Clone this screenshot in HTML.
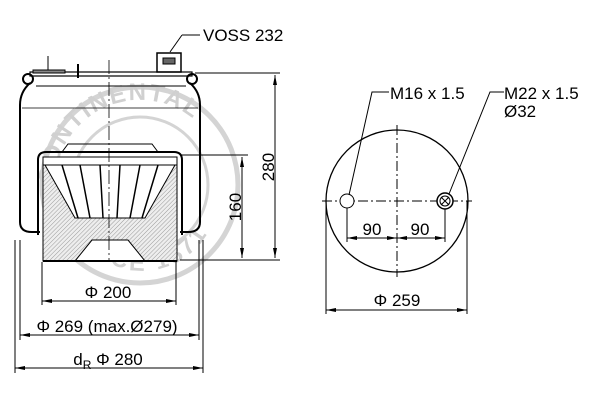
<!DOCTYPE html>
<html><head><style>html,body{margin:0;padding:0;background:#fff}svg{display:block}</style></head>
<body>
<svg width="600" height="400" viewBox="0 0 600 400" xmlns="http://www.w3.org/2000/svg" font-family="Liberation Sans, sans-serif">
<defs>
<pattern id="h" width="3" height="3" patternUnits="userSpaceOnUse" patternTransform="rotate(45)">
<rect width="3" height="3" fill="#eee"/><line x1="0" y1="0" x2="0" y2="3" stroke="#999" stroke-width="1"/></pattern>
<marker id="a" markerWidth="10" markerHeight="6" refX="10" refY="3" orient="auto-start-reverse" markerUnits="userSpaceOnUse"><path d="M0,1 L10,3 L0,5z" fill="#000"/></marker>
</defs>
<!-- watermark -->
<g fill="none" stroke="#d4d4d4" stroke-width="5">
<circle cx="140" cy="185" r="98"/><circle cx="140" cy="185" r="68" stroke-width="3"/>
</g>
<path id="wt" d="M55,185 A85,85 0 0 1 225,185" fill="none"/>
<path id="wb" d="M70,215 A75,75 0 0 0 215,215" fill="none"/>
<text font-size="24" font-weight="bold" fill="#d0d0d0" letter-spacing="2"><textPath href="#wt">CONTINENTAL</textPath></text>
<text font-size="24" font-weight="bold" fill="#d0d0d0" letter-spacing="3"><textPath href="#wb" startOffset="15">SINCE 1871</textPath></text>

<g stroke="#000" fill="none" stroke-width="1">
<rect x="30" y="72" width="162" height="4" stroke-width="1.2"/>
<line x1="36" y1="86" x2="186" y2="86"/>
<circle cx="28" cy="79" r="5" stroke-width="2"/><circle cx="192" cy="79" r="5" stroke-width="2"/>
<line x1="48" y1="56" x2="48" y2="72"/><rect x="33" y="70" width="32" height="3" fill="#888"/>
<line x1="78" y1="64" x2="78" y2="78" stroke-width="2"/>
<rect x="157" y="53" width="24" height="19" stroke-width="1.5"/><rect x="163" y="58" width="12" height="6" fill="#666"/>
<line x1="170" y1="52" x2="182" y2="35"/><line x1="182" y1="35" x2="200" y2="35"/>
<path d="M30,83 Q20,92 20,105 L20,222 Q20,232 32,232 L40,232" stroke-width="2"/>
<path d="M190,83 Q200,92 200,105 L200,222 Q200,232 188,232 L180,232" stroke-width="2"/>
<line x1="22" y1="108" x2="198" y2="108" stroke-width="0.7"/>
<path d="M38,235 L38,160 Q38,152 46,152 L174,152 Q182,152 182,160 L182,235" stroke-width="2"/>
<rect x="43" y="162" width="134" height="99" fill="url(#h)"/>
<path d="M62,152 L68,144 L152,144 L158,152" />
<rect x="43" y="157" width="134" height="8" fill="#fff"/>
<path d="M45,165 L75,218 L145,218 L175,165 Z" fill="#fff"/>
<path d="M62,165 L78,218 M80,165 L90,218 M100,165 L103,218 M120,165 L117,218 M140,165 L130,218 M158,165 L142,218" stroke-width="1.5"/>
<path d="M75,261 L92,240 L128,240 L145,261 Z" fill="#fff"/>
<line x1="43" y1="261" x2="177" y2="261" stroke-width="2"/>
<line x1="109" y1="60" x2="109" y2="262" stroke-dasharray="14,3,2,3" stroke-width="0.8"/>
<line x1="195" y1="73" x2="280" y2="73"/><line x1="180" y1="260" x2="280" y2="260"/>
<line x1="180" y1="155" x2="248" y2="155"/>
<line x1="275" y1="75" x2="275" y2="258" marker-start="url(#a)" marker-end="url(#a)"/>
<line x1="242" y1="157" x2="242" y2="258" marker-start="url(#a)" marker-end="url(#a)"/>
<line x1="42" y1="262" x2="42" y2="305"/><line x1="176" y1="262" x2="176" y2="305"/>
<line x1="20" y1="240" x2="20" y2="340"/><line x1="199" y1="240" x2="199" y2="340"/>
<line x1="15" y1="240" x2="15" y2="373"/><line x1="203" y1="240" x2="203" y2="373"/>
<line x1="42" y1="301" x2="176" y2="301" marker-start="url(#a)" marker-end="url(#a)"/>
<line x1="20" y1="335" x2="199" y2="335" marker-start="url(#a)" marker-end="url(#a)"/>
<line x1="15" y1="368" x2="203" y2="368" marker-start="url(#a)" marker-end="url(#a)"/>
<circle cx="397" cy="201" r="71" stroke-width="1.3"/>
<line x1="397" y1="125" x2="397" y2="277" stroke-dasharray="10,3,2,3"/>
<line x1="322" y1="201" x2="472" y2="201" stroke-dasharray="10,3,2,3"/>
<circle cx="347" cy="201" r="7" fill="#fff"/>
<circle cx="445" cy="201" r="8" fill="#fff" stroke-width="1.5"/><circle cx="445" cy="201" r="5"/>
<path d="M441,197 L449,205 M449,197 L441,205"/>
<line x1="347" y1="208" x2="347" y2="242"/><line x1="445" y1="209" x2="445" y2="242"/>
<line x1="347" y1="238" x2="397" y2="238" marker-start="url(#a)" marker-end="url(#a)"/>
<line x1="397" y1="238" x2="445" y2="238" marker-start="url(#a)" marker-end="url(#a)"/>
<line x1="326" y1="201" x2="326" y2="314"/><line x1="467" y1="201" x2="467" y2="314"/>
<line x1="326" y1="310" x2="467" y2="310" marker-start="url(#a)" marker-end="url(#a)"/>
<path d="M349,195 L372,92 L389,92"/>
<path d="M449,194 L490,92 L504,92"/>
</g>
<g font-size="17" fill="#000">
<text x="203" y="41">VOSS 232</text>
<text x="390" y="99">M16 x 1.5</text>
<text x="504" y="99">M22 x 1.5</text>
<text x="504" y="117">Ø32</text>
<text x="372" y="235" text-anchor="middle">90</text>
<text x="420" y="235" text-anchor="middle">90</text>
<text x="397" y="306" text-anchor="middle">Φ 259</text>
<text x="108" y="298" text-anchor="middle">Φ 200</text>
<text x="107" y="332" text-anchor="middle">Φ 269 (max.Ø279)</text>
<text x="108" y="365" text-anchor="middle">d<tspan font-size="12" dy="4">R</tspan><tspan dy="-4"> Φ 280</tspan></text>
<text transform="translate(274,167) rotate(-90)" text-anchor="middle">280</text>
<text transform="translate(241,207) rotate(-90)" text-anchor="middle">160</text>
</g>
</svg>
</body></html>
